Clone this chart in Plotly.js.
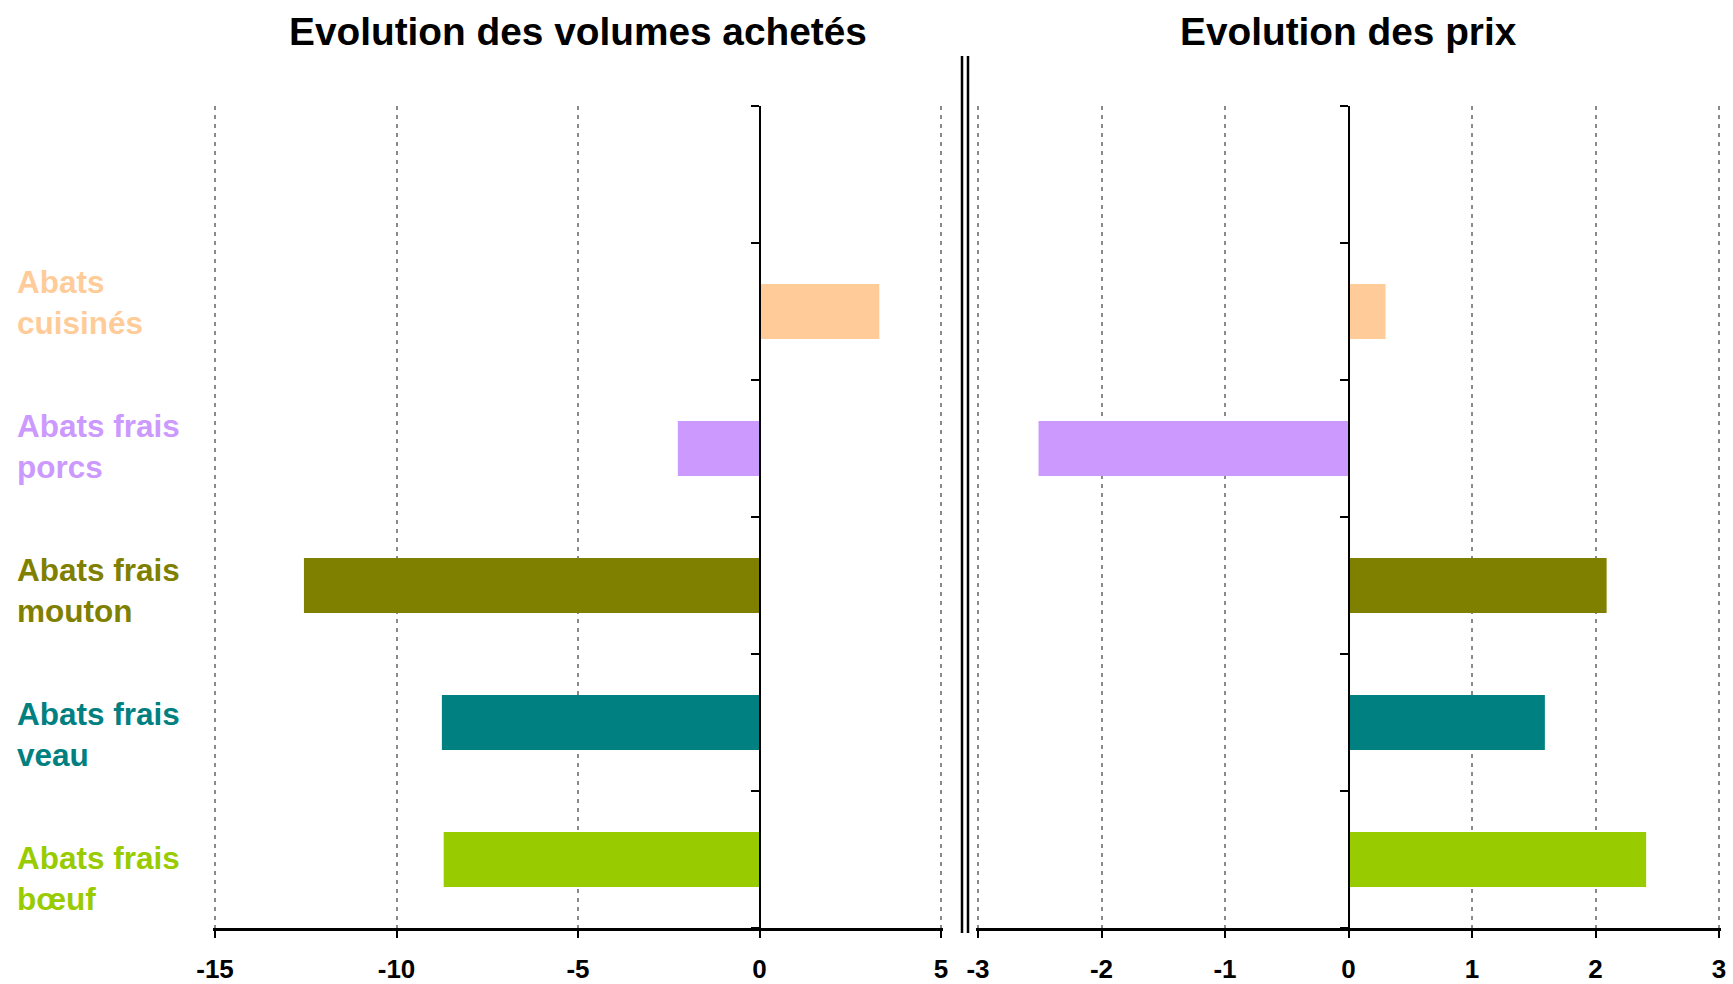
<!DOCTYPE html>
<html>
<head>
<meta charset="utf-8">
<script src="https://cdn.plot.ly/plotly-3.0.1.min.js"></script>
<style>html,body{margin:0;padding:0;background:#fff;}#chart{width:1733px;height:984px;}</style>
</head>
<body>
<div id="chart"></div>
<script>
// ---- data (bottom to top) ----
const categories = ['Abats frais bœuf', 'Abats frais veau', 'Abats frais mouton', 'Abats frais porcs', 'Abats cuisinés'];
const labelLines = ['Abats frais<br>bœuf', 'Abats frais<br>veau', 'Abats frais<br>mouton', 'Abats frais<br>porcs', 'Abats<br>cuisinés'];
const colors = ['#99CC00', '#008080', '#808000', '#CC99FF', '#FFCC99'];
const volumes = [-8.7, -8.75, -12.55, -2.25, 3.3];
const prix = [2.41, 1.59, 2.09, -2.51, 0.3];
const titles = ['Evolution des volumes achetés', 'Evolution des prix'];
const volTicks = [-15, -10, -5, 0, 5];
const prixTicks = [-3, -2, -1, 0, 1, 2, 3];
const volRange = [-15, 5];
const prixRange = [-3, 3];

const W = 1733, H = 984;
const FONT = 'Liberation Sans, Arial, sans-serif';
const catArray = categories.concat(['\u00a0']);

// pixel extents of each panel's value axis
const px1 = [215, 941];
const px2 = [978, 1719];
const EDGE = 2.2; // px extension so edge gridlines are kept
function padded(px, rng) {
  const unit = (px[1] - px[0]) / (rng[1] - rng[0]);
  const d = EDGE / unit;
  return { dom: [(px[0] - EDGE) / W, (px[1] + EDGE) / W], rng: [rng[0] - d, rng[1] + d] };
}
const p1 = padded(px1, volRange);
const p2 = padded(px2, prixRange);
const ydom = [1 - 928 / H, 1 - 106 / H];
function zeroPos(px, rng) { return (px[0] + (0 - rng[0]) / (rng[1] - rng[0]) * (px[1] - px[0])) / W; }

const traces = [
  { type: 'bar', orientation: 'h', x: volumes, y: categories, xaxis: 'x', yaxis: 'y',
    marker: { color: colors, line: { width: 0 } }, width: 0.4, hoverinfo: 'x+y' },
  { type: 'bar', orientation: 'h', x: prix, y: categories, xaxis: 'x2', yaxis: 'y2',
    marker: { color: colors, line: { width: 0 } }, width: 0.4, hoverinfo: 'x+y' }
];

function xax(p, ticks, anchor) {
  return {
    domain: p.dom, range: p.rng, anchor: anchor, tickvals: ticks, ticktext: ticks.map(String),
    showgrid: true, gridcolor: '#8a8a8a', gridwidth: 2, griddash: '4px,5px',
    zeroline: false, showline: true, linecolor: '#000', linewidth: 2.5,
    ticks: 'outside', ticklen: 7, tickwidth: 2, tickcolor: '#000', ticklabelstandoff: 9,
    tickfont: { family: FONT, size: 26, color: '#000', weight: 'bold' },
    fixedrange: true
  };
}
function yax(pos) {
  return {
    domain: ydom, type: 'category', categoryorder: 'array', categoryarray: catArray,
    range: [-0.5, 5.5], anchor: 'free', position: pos,
    showline: true, linecolor: '#000', linewidth: 2, showgrid: false, zeroline: false,
    ticks: 'outside', tickson: 'boundaries', ticklen: 8, tickwidth: 2, tickcolor: '#000',
    showticklabels: false, fixedrange: true
  };
}

const annotations = [];
titles.forEach((t, i) => {
  const d = i === 0 ? px1 : px2;
  annotations.push({ text: t, xref: 'paper', yref: 'paper', x: (d[0] + d[1]) / 2 / W, y: 1 - 31.5 / H,
    xanchor: 'center', yanchor: 'middle', showarrow: false,
    font: { family: FONT, size: 38.8, color: '#000', weight: 'bold' } });
});
// category labels: stacked down the left margin, evenly spaced
const LABEL_TOP = 302, LABEL_STEP = 144;
categories.forEach((c, i) => {
  const k = categories.length - 1 - i; // 0 = top label
  annotations.push({ text: labelLines[i], xref: 'paper', yref: 'paper', x: 15 / W,
    y: 1 - (LABEL_TOP + k * LABEL_STEP) / H,
    xanchor: 'left', yanchor: 'middle', align: 'left', showarrow: false,
    font: { family: FONT, size: 31.5, color: colors[i], weight: 'bold' } });
});

const shapes = [
  { type: 'line', xref: 'paper', yref: 'paper', x0: 962 / W, x1: 962 / W, y0: 1 - 933 / H, y1: 1 - 56 / H,
    line: { color: '#000', width: 2.5 } },
  { type: 'line', xref: 'paper', yref: 'paper', x0: 968 / W, x1: 968 / W, y0: 1 - 933 / H, y1: 1 - 56 / H,
    line: { color: '#000', width: 2.5 } }
];

const layout = {
  width: W, height: H, margin: { l: 0, r: 0, t: 0, b: 0 },
  paper_bgcolor: '#fff', plot_bgcolor: 'rgba(0,0,0,0)', showlegend: false, bargap: 0.6,
  xaxis: xax(p1, volTicks, 'y'),
  xaxis2: xax(p2, prixTicks, 'y2'),
  yaxis: yax(zeroPos(px1, volRange)),
  yaxis2: yax(zeroPos(px2, prixRange)),
  annotations: annotations, shapes: shapes,
  font: { family: FONT }
};

Plotly.newPlot('chart', traces, layout, { displayModeBar: false, staticPlot: true });
</script>
</body>
</html>
